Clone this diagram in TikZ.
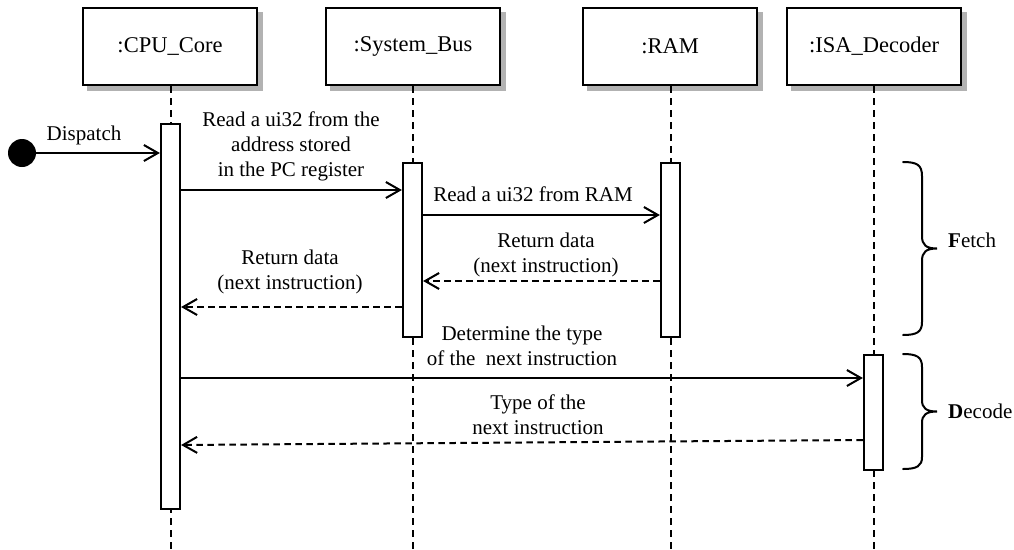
\documentclass[tikz,border=0pt]{standalone}
\usepackage{fontspec}
\setmainfont{Liberation Serif}
\usetikzlibrary{arrows.meta}
\definecolor{shadowgray}{RGB}{178,178,178}
\begin{document}
\begin{tikzpicture}[x=1pt,y=-1pt,
  obj/.style={draw, line width=2.2pt, fill=white, minimum width=174pt, minimum height=77pt, inner sep=0,
    font=\fontsize{22.5}{27}\selectfont},
  objshadow/.style={fill=shadowgray, draw=none, minimum width=176pt, minimum height=79pt, inner sep=0},
  lifeline/.style={line width=2pt, dash pattern=on 7pt off 5pt},
  act/.style={draw, line width=2.2pt, fill=white, minimum width=19pt, inner sep=0, anchor=north},
  msg/.style={line width=2pt, -{Straight Barb[length=14pt,width=16pt,line width=2pt]}},
  ret/.style={msg, dash pattern=on 6.5pt off 4.5pt},
  lbl/.style={align=center, inner sep=0, font=\fontsize{21}{25}\selectfont},
  brace/.style={line width=2pt, line cap=round}]
\useasboundingbox (0,0) rectangle (1014,549);

% shadows
\node[objshadow] (cpuS) at (175,51.5) {};
\node[objshadow] (busS) at (418,51.5) {};
\node[objshadow] (ramS) at (675,51.5) {};
\node[objshadow] (isaS) at (879,51.5) {};

% objects
\node[obj] (cpu) at (170,46.5) {:CPU\_Core};
\node[obj] (bus) at (413,46.5) {:System\_Bus};
\node[obj] (ram) at (670,46.5) {:RAM};
\node[obj] (isa) at (874,46.5) {:ISA\_Decoder};

% lifelines
\coordinate (cpuE) at (170.5,549);
\coordinate (busE) at (412.5,549);
\coordinate (ramE) at (670.5,549);
\coordinate (isaE) at (873.5,549);
\draw[lifeline] (cpu.south -| cpuE) -- (cpuE);
\draw[lifeline] (bus.south -| busE) -- (busE);
\draw[lifeline] (ram.south -| ramE) -- (ramE);
\draw[lifeline] (isa.south -| isaE) -- (isaE);

% activation bars
\node[act, minimum height=385pt] (acpu) at (170.5,123) {};
\node[act, minimum height=174pt] (abus) at (412.5,162) {};
\node[act, minimum height=174pt] (aram) at (670.5,162) {};
\node[act, minimum height=115pt] (aisa) at (873.5,354) {};

% message rows
\coordinate (r0) at (0,153);
\coordinate (r1) at (0,190);
\coordinate (r2) at (0,215);
\coordinate (r3) at (0,281);
\coordinate (r4) at (0,307);
\coordinate (r5) at (0,378);
\coordinate (r6a) at (0,440);
\coordinate (r6b) at (0,445);

% start
\node[circle, fill=black, minimum size=28pt, inner sep=0] (start) at (22,153) {};
\draw[msg] (start) -- (acpu.west |- r0);
\node[lbl] (ldisp) at (84,135) {Dispatch};

\draw[msg] (acpu.east |- r1) -- (abus.west |- r1);
\node[lbl] (l1) at (291,146) {Read a ui32 from the\\address stored\\in the PC register};

\draw[msg] (abus.east |- r2) -- (aram.west |- r2);
\node[lbl] (l2) at (533,194) {Read a ui32 from RAM};

\draw[ret] (aram.west |- r3) -- (abus.east |- r3);
\node[lbl] (l3) at (546,255) {Return data\\(next instruction)};

\draw[ret] (abus.west |- r4) -- (acpu.east |- r4);
\node[lbl] (l4) at (290,272) {Return data\\(next instruction)};

\draw[msg] (acpu.east |- r5) -- (aisa.west |- r5);
\node[lbl] (l5) at (522,346) {Determine the type\\of the\ \ next instruction};

\draw[ret] (aisa.west |- r6a) -- (acpu.east |- r6b);
\node[lbl] (l6) at (538,415) {Type of the\\next instruction};

% braces
\draw[brace] (903,162) .. controls (917,162) and (922,165) .. (922,176) -- (922,236)
  .. controls (922,245) and (926,248.5) .. (937,248.5)
  .. controls (926,248.5) and (922,252) .. (922,261) -- (922,322)
  .. controls (922,332) and (917,335) .. (903,335);
\draw[brace] (903,354) .. controls (917,354) and (922,357) .. (922,367) -- (922,400)
  .. controls (922,408) and (926,411.5) .. (937,411.5)
  .. controls (926,411.5) and (922,415) .. (922,423) -- (922,457)
  .. controls (922,466) and (917,469) .. (903,469);
\node[lbl, anchor=west] (fetch) at (948,240) {\textbf{F}etch};
\node[lbl, anchor=west] (decode) at (948,411) {\textbf{D}ecode};
\end{tikzpicture}
\end{document}
